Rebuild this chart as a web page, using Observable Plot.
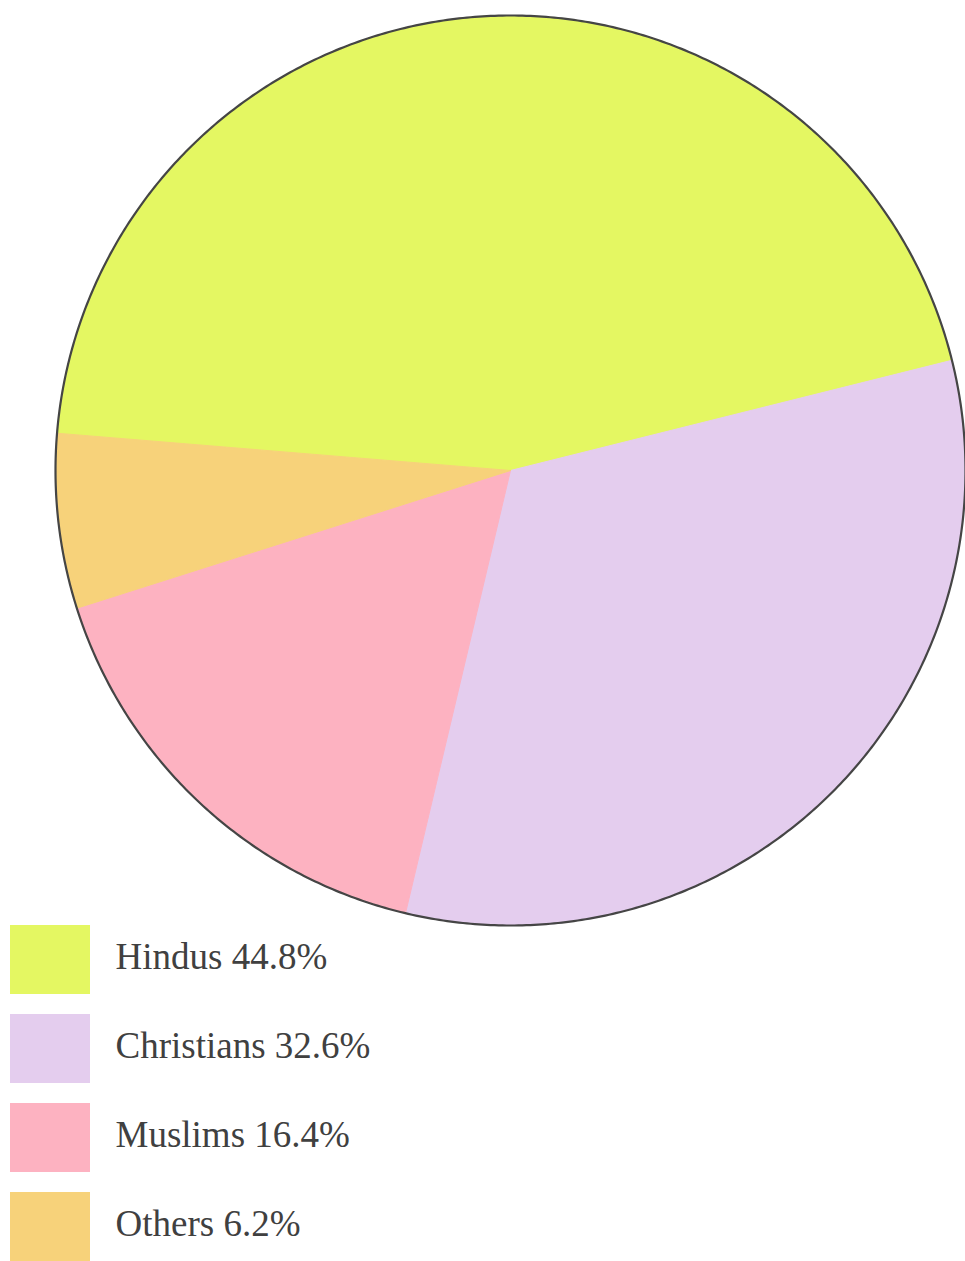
<!DOCTYPE html>
<html>
<head>
<meta charset="utf-8">
<script src="https://cdn.jsdelivr.net/npm/d3@7"></script>
<script src="https://cdn.jsdelivr.net/npm/@observablehq/plot@0.6"></script>
<style>
  html, body { margin: 0; padding: 0; background: #ffffff; }
  #chart { width: 965px; }
  #chart svg { display: block; }
  #legend { margin-top: -5px; }
</style>
</head>
<body>
<div id="chart"></div>
<div id="chart2"></div>
<script>
// ---- data ----
const religions = ["Hindus", "Christians", "Muslims", "Others"];
const shares = [44.8, 32.6, 16.4, 6.2];
const colors = ["#e4f762", "#e4cdee", "#fdb2c1", "#f7d27a"];

// ---- layout / style ----
const startDeg = -85.3;
const arcStepDeg = 0.4;

const pie = d3.pie().sort(null).value(d => d.share)
  .startAngle(startDeg * Math.PI / 180)
  .endAngle(startDeg * Math.PI / 180 + 2 * Math.PI);

const rows = religions.map((name, i) => ({name, share: shares[i], label: `${name} ${shares[i]}%`}));
const arcs = pie(rows);

// polygon points for each slice on the unit circle (angle clockwise from 12 o'clock)
const slicePts = [];
for (const a of arcs) {
  const name = a.data.name;
  slicePts.push({name, u: 0, v: 0});
  const n = Math.max(2, Math.ceil((a.endAngle - a.startAngle) * 180 / Math.PI / arcStepDeg));
  for (let k = 0; k <= n; k++) {
    const t = a.startAngle + (a.endAngle - a.startAngle) * k / n;
    slicePts.push({name, u: Math.sin(t), v: Math.cos(t)});
  }
  slicePts.push({name, u: 0, v: 0});
}
const ringPts = d3.range(0, 721).map(k => {
  const t = k / 720 * 2 * Math.PI;
  return {u: Math.sin(t), v: Math.cos(t)};
});

const colorScale = {domain: religions, range: colors};

const piePlot = Plot.plot({
  width: 965,
  height: 930,
  margin: 0,
  x: {domain: [-510 / 455, 1], axis: null},
  y: {domain: [-460 / 455, 470 / 455], axis: null},
  color: colorScale,
  marks: [
    Plot.line(slicePts, {x: "u", y: "v", z: "name", fill: "name", stroke: "name", strokeWidth: 1, curve: "linear"}),
    Plot.line(ringPts, {x: "u", y: "v", stroke: "#454545", strokeWidth: 2.2, fill: "none"})
  ]
});
document.getElementById("chart").appendChild(piePlot);

const legendPlot = Plot.plot({
  width: 965,
  height: 336,
  margin: 0,
  x: {type: "band", domain: ["swatch"], range: [10, 90], padding: 0, axis: null},
  y: {type: "band", domain: religions, paddingInner: 0.227, paddingOuter: 0, axis: null},
  color: colorScale,
  marks: [
    Plot.cell(rows, {x: () => "swatch", y: "name", fill: "name", inset: 0}),
    Plot.text(rows, {y: "name", text: "label", frameAnchor: "left", dx: 115, dy: -3, textAnchor: "start",
      fontSize: 37, fontFamily: "Liberation Serif", fill: "#404040"})
  ]
});
legendPlot.id = "legend";
document.getElementById("chart2").appendChild(legendPlot);
</script>
</body>
</html>
